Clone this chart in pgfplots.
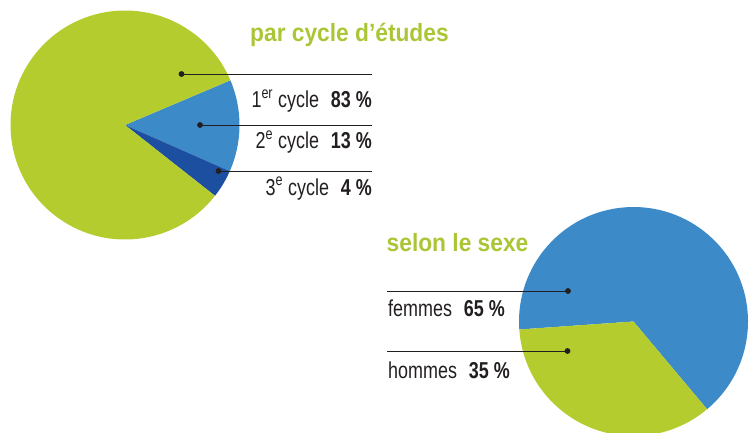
\documentclass[border=0pt]{standalone}
\usepackage{pgfplots}
\pgfplotsset{compat=1.18}
\usepackage{fontspec}
\setmainfont{Liberation Sans}
\newfontfamily\labfont{Liberation Sans}[FakeStretch=0.78]
\newfontfamily\titfont{Liberation Sans}[FakeStretch=0.91]
\definecolor{pgreen}{HTML}{B5CC2F}
\definecolor{tgreen}{HTML}{AAC636}
\definecolor{pblue}{HTML}{3C8AC8}
\definecolor{pdblue}{HTML}{1C4FA0}
\definecolor{txt}{HTML}{231F20}
% slice: center x, center y, start angle, value (%), colour ; positive value = clockwise
\newcommand\slice[5]{%
  \fill[#5] (axis cs:#1,#2) -- ++(#3:114.5pt)
    arc[start angle=#3, delta angle=-3.6*#4, radius=114.5pt] -- cycle;}
\begin{document}
\begin{tikzpicture}
\begin{axis}[
  width=749pt, height=432pt, scale only axis,
  xmin=0, xmax=749, ymin=0, ymax=432, y dir=reverse,
  axis lines=none, clip=true,
]
% --- pie 1 : par cycle d'etudes (83, 13, 4)
\slice{125}{125}{23}{13}{pblue}
\slice{125}{125}{-23.8}{4}{pdblue}
\slice{125}{125}{-38.2}{83}{pgreen}
% --- pie 2 : selon le sexe (65, 35)
\slice{633.5}{321.5}{184}{65}{pblue}
\slice{633.5}{321.5}{184}{-35}{pgreen}
% leader lines
\addplot[txt, line width=0.9pt, mark=*, mark size=2.4pt, mark indices={1}] coordinates {(181.5,74) (372,74)};
\addplot[txt, line width=0.9pt, mark=*, mark size=2.4pt, mark indices={1}] coordinates {(200,125) (372,125)};
\addplot[txt, line width=0.9pt, mark=*, mark size=2.4pt, mark indices={1}] coordinates {(218.5,171) (372,171)};
\addplot[txt, line width=0.9pt, mark=*, mark size=2.4pt, mark indices={1}] coordinates {(568,291) (387,291)};
\addplot[txt, line width=0.9pt, mark=*, mark size=2.4pt, mark indices={1}] coordinates {(567.5,351) (387,351)};
% titles
\node[anchor=base west, inner sep=0pt, text=tgreen, font=\titfont\bfseries\fontsize{25}{25}\selectfont] at (axis cs:250,41.7) {par cycle d’études};
\node[anchor=base west, inner sep=0pt, text=tgreen, font=\titfont\bfseries\fontsize{25}{25}\selectfont] at (axis cs:386.5,251.7) {selon le sexe};
% labels
\node[anchor=base east, inner sep=0pt, text=txt, font=\labfont\fontsize{23}{23}\selectfont] at (axis cs:372,107.3) {1\textsuperscript{er} cycle\hspace{0.3em} \textbf{83 \%}};
\node[anchor=base east, inner sep=0pt, text=txt, font=\labfont\fontsize{23}{23}\selectfont] at (axis cs:372,148.3) {2\textsuperscript{e} cycle\hspace{0.3em} \textbf{13 \%}};
\node[anchor=base east, inner sep=0pt, text=txt, font=\labfont\fontsize{23}{23}\selectfont] at (axis cs:372,195) {3\textsuperscript{e} cycle\hspace{0.3em} \textbf{4 \%}};
\node[anchor=base west, inner sep=0pt, text=txt, font=\labfont\fontsize{23}{23}\selectfont] at (axis cs:388,316.7) {femmes\hspace{0.3em} \textbf{65 \%}};
\node[anchor=base west, inner sep=0pt, text=txt, font=\labfont\fontsize{23}{23}\selectfont] at (axis cs:388,378.3) {hommes\hspace{0.3em} \textbf{35 \%}};
\end{axis}
\pgfresetboundingbox
\useasboundingbox (current axis.south west) rectangle (current axis.north east);
\end{tikzpicture}
\end{document}
